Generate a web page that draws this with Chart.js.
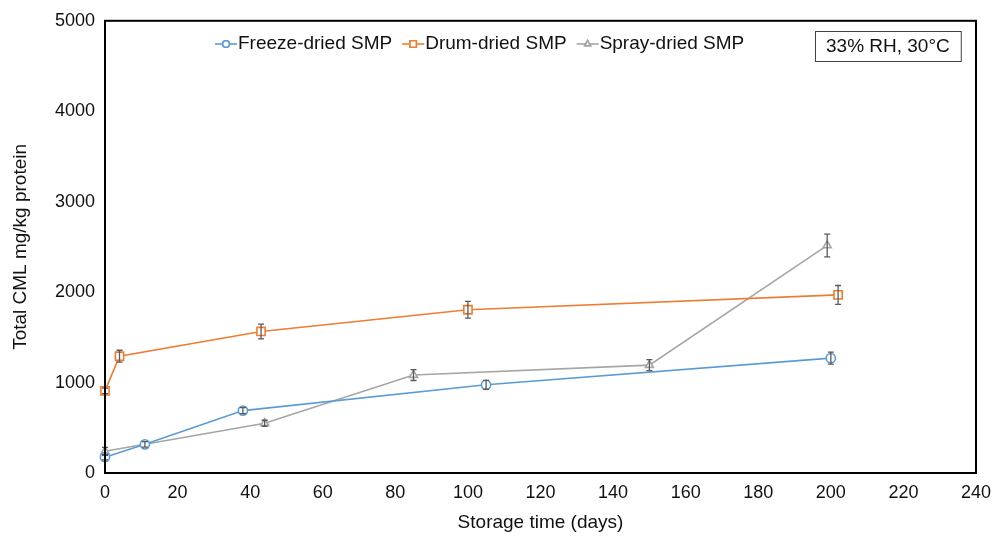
<!DOCTYPE html>
<html>
<head>
<meta charset="utf-8">
<script src="https://cdn.jsdelivr.net/npm/chart.js@4/dist/chart.umd.min.js"></script>
<style>
  html, body { margin: 0; padding: 0; background: #fff; }
  #wrap { width: 1005px; height: 539px; }
</style>
</head>
<body>
<div id="wrap"><canvas id="cml-chart" width="1005" height="539"></canvas></div>
<script>
// Dados
const freezeDays = [0, 11, 38, 105, 200];
const freezeCml = [175, 317, 690, 975, 1270];
const freezeErr = [30, 30, 33, 50, 66];

const drumDays = [0, 4, 43, 100, 202];
const drumCml = [908, 1291, 1565, 1805, 1969];
const drumErr = [30, 66, 82, 93, 104];

const sprayDays = [0, 44, 85, 150, 199];
const sprayCml = [240, 550, 1083, 1193, 2516];
const sprayErr = [44, 33, 60, 60, 126];

const seriesNames = ["Freeze-dried SMP", "Drum-dried SMP", "Spray-dried SMP"];
const xTicks = [0, 20, 40, 60, 80, 100, 120, 140, 160, 180, 200, 220, 240];
const yTicks = [0, 1000, 2000, 3000, 4000, 5000];
const noteText = "33% RH, 30°C";

const FONT = "'Liberation Sans', Arial, sans-serif";
const colors = ["#5B9BD5", "#ED7D31", "#A5A5A5"];
const styles = ["circle", "rect", "triangle"];

function pontos(xs, ys) {
  return xs.map((x, i) => ({ x: x, y: ys[i] }));
}

const erros = [freezeErr, drumErr, sprayErr];

function serie(i, xs, ys) {
  return {
    label: seriesNames[i],
    data: pontos(xs, ys),
    showLine: true,
    clip: false,
    borderColor: colors[i],
    backgroundColor: "#fff",
    borderWidth: 1.6,
    pointStyle: styles[i],
    pointRadius: i === 1 ? 5.8 : 4.6,
    pointBorderWidth: 1.6,
    pointBorderColor: colors[i],
    pointBackgroundColor: "#fff"
  };
}

// Barras de erro
const errorBars = {
  id: "errorBars",
  afterDatasetsDraw(chart) {
    const ctx = chart.ctx;
    const ys = chart.scales.y;
    ctx.save();
    ctx.strokeStyle = "#595959";
    ctx.lineWidth = 1.3;
    chart.data.datasets.forEach((ds, i) => {
      const meta = chart.getDatasetMeta(i);
      meta.data.forEach((pt, j) => {
        const v = ds.data[j].y;
        const e = erros[i][j];
        const top = ys.getPixelForValue(v + e);
        const bot = ys.getPixelForValue(v - e);
        ctx.beginPath();
        ctx.moveTo(pt.x, top);
        ctx.lineTo(pt.x, bot);
        ctx.moveTo(pt.x - 3, top);
        ctx.lineTo(pt.x + 3, top);
        ctx.moveTo(pt.x - 3, bot);
        ctx.lineTo(pt.x + 3, bot);
        ctx.stroke();
      });
    });
    ctx.restore();
  }
};

// Moldura, legenda e caixa de texto
const extras = {
  id: "extras",
  afterDraw(chart) {
    const ctx = chart.ctx;
    const a = chart.chartArea;
    ctx.save();
    ctx.strokeStyle = "#000";
    ctx.lineWidth = 2;
    ctx.strokeRect(a.left, a.top, a.right - a.left, a.bottom - a.top);

    // Legenda
    ctx.font = "19px " + FONT;
    ctx.textBaseline = "middle";
    ctx.fillStyle = "#111";
    let x = a.left + 110;
    const y = 44;
    seriesNames.forEach((name, i) => {
      ctx.strokeStyle = colors[i];
      ctx.lineWidth = 1.6;
      ctx.beginPath();
      ctx.moveTo(x, y);
      ctx.lineTo(x + 22, y);
      ctx.stroke();
      ctx.fillStyle = "#fff";
      Chart.helpers.drawPoint(ctx, {
        pointStyle: styles[i],
        radius: i === 1 ? 4.5 : 3.3,
        borderWidth: 1.4
      }, x + 11, y);
      ctx.fill();
      ctx.stroke();
      ctx.fillStyle = "#111";
      ctx.fillText(name, x + 23, y);
      x += 23 + ctx.measureText(name).width + 10;
    });

    // Caixa "33% RH, 30°C"
    const w = ctx.measureText(noteText).width;
    const bx = 815, by = 31, bw = w + 22, bh = 30;
    ctx.strokeStyle = "#404040";
    ctx.lineWidth = 1;
    ctx.strokeRect(bx + 0.5, by + 0.5, bw, bh);
    ctx.fillStyle = "#111";
    ctx.fillText(noteText, bx + 11, by + bh / 2 + 1);
    ctx.restore();
  }
};

const ctx = document.getElementById("cml-chart").getContext("2d");
new Chart(ctx, {
  type: "scatter",
  data: {
    datasets: [
      serie(0, freezeDays, freezeCml),
      serie(1, drumDays, drumCml),
      serie(2, sprayDays, sprayCml)
    ]
  },
  options: {
    responsive: false,
    animation: false,
    layout: { padding: { top: 16, right: 29, left: 0, bottom: 0 } },
    plugins: {
      legend: { display: false },
      tooltip: { enabled: false }
    },
    scales: {
      x: {
        type: "linear",
        min: xTicks[0],
        max: xTicks[xTicks.length - 1],
        afterBuildTicks: (s) => { s.ticks = xTicks.map(v => ({ value: v })); },
        afterFit: (s) => { s.height = 66; },
        grid: { display: false, drawTicks: false },
        border: { display: false },
        ticks: {
          font: { size: 18, family: FONT },
          color: "#111",
          padding: 9,
          maxRotation: 0,
          callback: (v) => String(v)
        },
        title: {
          display: true,
          text: "Storage time (days)",
          font: { size: 19, family: FONT },
          color: "#111",
          padding: { top: 0, bottom: 5 }
        }
      },
      y: {
        min: yTicks[0],
        max: yTicks[yTicks.length - 1],
        afterBuildTicks: (s) => { s.ticks = yTicks.map(v => ({ value: v })); },
        afterFit: (s) => { s.width = 105; },
        grid: { display: false, drawTicks: false },
        border: { display: false },
        ticks: {
          font: { size: 18, family: FONT },
          color: "#111",
          padding: 10,
          callback: (v) => String(v)
        },
        title: {
          display: true,
          text: "Total CML mg/kg protein",
          font: { size: 19, family: FONT },
          color: "#111",
          padding: { top: 9, bottom: 0 }
        }
      }
    }
  },
  plugins: [errorBars, extras]
});
</script>
</body>
</html>
